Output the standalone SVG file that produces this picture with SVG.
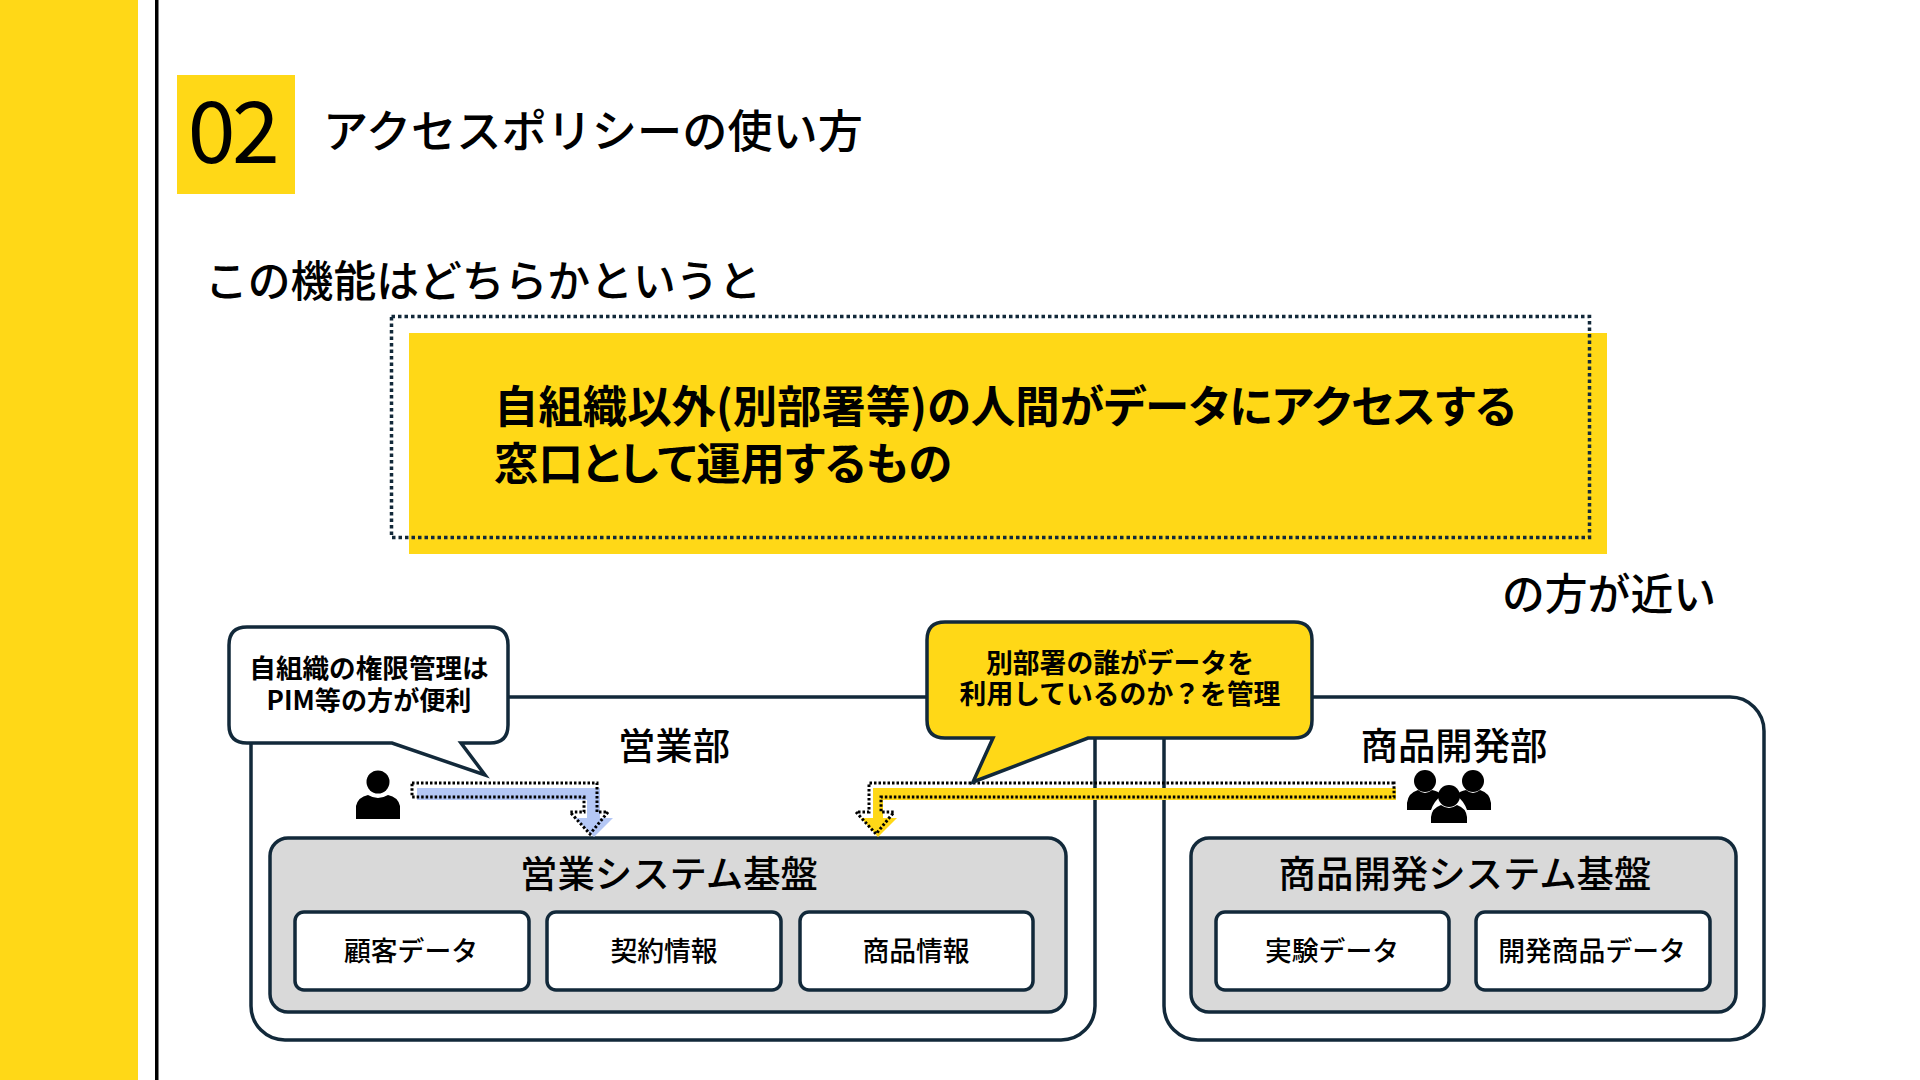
<svg xmlns="http://www.w3.org/2000/svg" width="1920" height="1080" viewBox="0 0 1920 1080">
<style>
text{font-family:"Noto Sans CJK JP","Noto Sans",sans-serif;fill:#000;text-anchor:middle;font-weight:500}
.s{text-anchor:start}
.b{fill:#fff;stroke:#12293a;stroke-width:3.5}
.g{fill:#d9d9d9;stroke:#12293a;stroke-width:3.5}
.d{fill:none;stroke:#12293a;stroke-width:3.5;stroke-dasharray:3.5 3}
.dk{fill:none;stroke:#000;stroke-width:3;stroke-dasharray:2.5 2}
.m{font-size:44.4px;font-weight:700;font-feature-settings:"palt"}
.t37{font-size:37.4px}.t27{font-size:26.8px}.t26{font-size:26.6px;font-weight:700}.t42{font-size:42.8px}
</style>
<rect x="0" y="0" width="138" height="1080" fill="#ffd817"/>
<rect x="155" y="0" width="3.5" height="1080" fill="#000"/>
<g id="heading">
<rect x="177" y="75" width="118" height="119" fill="#ffd817"/>
<text x="232" y="163" font-size="86" letter-spacing="-3.5" style="font-weight:400">02</text>
<text class="s" x="323" y="148" font-size="45.2">アクセスポリシーの使い方</text>
</g>
<text class="s t42" x="205" y="297">この機能はどちらかというと</text>
<g id="statement">
<rect x="409" y="333" width="1198" height="221" fill="#ffd817"/>
<rect class="d" x="391.500" y="316.500" width="1198" height="221"/>
<text class="s m" x="494" y="423">自組織以外(別部署等)の人間がデータにアクセスする</text>
<text class="s m" x="494" y="480">窓口として運用するもの</text>
</g>
<text class="s t42" x="1502" y="610">の方が近い</text>
<g id="sales">
<rect class="b" x="251" y="697" width="844" height="343" rx="34"/>
<text class="t37" x="674" y="760">営業部</text>
<g id="sales-system">
<rect class="g" x="270" y="838" width="796" height="174" rx="18"/>
<text class="t37" x="669" y="888">営業システム基盤</text>
</g>
<g id="customer"><rect class="b" x="295" y="912" width="234" height="78" rx="9"/><text class="t27" x="411" y="961">顧客データ</text></g>
<g id="contract"><rect class="b" x="547" y="912" width="234" height="78" rx="9"/><text class="t27" x="664" y="961">契約情報</text></g>
<g id="product"><rect class="b" x="800" y="912" width="233" height="78" rx="9"/><text class="t27" x="916" y="961">商品情報</text></g>
</g>
<g id="dev">
<rect class="b" x="1164" y="697" width="600" height="343" rx="34"/>
<text class="t37" x="1454" y="760">商品開発部</text>
<g id="dev-system">
<rect class="g" x="1191" y="838" width="545" height="174" rx="18"/>
<text class="t37" x="1465" y="888">商品開発システム基盤</text>
</g>
<g id="experiment"><rect class="b" x="1216" y="912" width="233" height="78" rx="9"/><text class="t27" x="1332" y="961">実験データ</text></g>
<g id="devproduct"><rect class="b" x="1476" y="912" width="234" height="78" rx="9"/><text class="t27" x="1592" y="961">開発商品データ</text></g>
</g>
<g id="person">
<ellipse cx="378" cy="782" rx="11.500" ry="11.500"/>
<path d="M356 819V806Q358 797 368 795Q378 801 388 795Q398 797 400 806V819Z"/>
</g>
<g id="people">
<circle cx="1425" cy="781" r="11"/><circle cx="1473" cy="781" r="11"/>
<path d="M1407 810V803Q1408 793 1418 790Q1425 796 1432 790Q1438 791 1442 795Q1434 801 1431 810Z"/>
<path d="M1491 810V803Q1490 793 1480 790Q1473 796 1466 790Q1460 791 1456 795Q1464 801 1467 810Z"/>
<circle cx="1449" cy="796" r="11"/>
<path d="M1431 823V817Q1432 808 1441 805Q1449 811 1457 805Q1466 808 1467 817V823Z"/>
</g>
<g id="connectors">
<path fill="#b4c7f5" d="M417 788H600V818H613L594 837L575 818H587V800H417Z"/>
<path class="dk" d="M412 783H597V812H608L590 834L570 812H584V797H412Z"/>
<path fill="#ffd817" d="M1396 788H873V818H861L878 837L897 818H883V800H1396Z"/>
<path class="dk" d="M1394 783H869V812H856L876 834L894 812H881V797H1394Z"/>
</g>
<g id="callout-own">
<path class="b" d="M247 627H490Q508 627 508 645V725Q508 743 490 743H461L485 775L392 743H247Q229 743 229 725V645Q229 627 247 627Z"/>
<text class="t26" x="369" y="678">自組織の権限管理は</text>
<text class="t26" x="369" y="710" style="font-size:26.1px">PIM等の方が便利</text>
</g>
<g id="callout-other">
<path d="M945 622H1294Q1312 622 1312 640V720Q1312 738 1294 738H1088L973 782L993 738H945Q927 738 927 720V640Q927 622 945 622Z" fill="#ffd817" stroke="#12293a" stroke-width="3.500"/>
<text class="t26" x="1120" y="673" style="font-size:26.8px">別部署の誰がデータを</text>
<text class="t26" x="1120" y="704" style="font-size:26.8px">利用しているのか？を管理</text>
</g>
</svg>
